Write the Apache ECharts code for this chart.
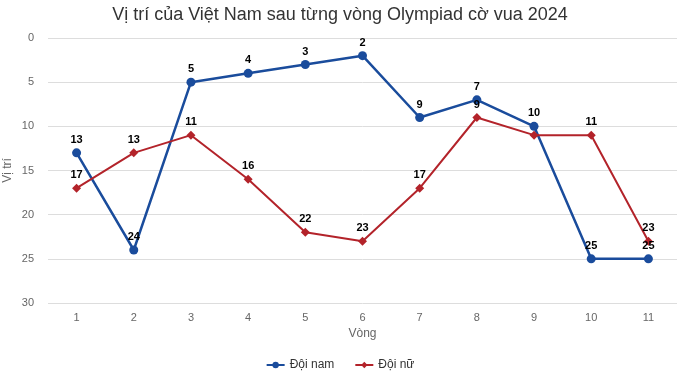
<!DOCTYPE html>
<html>
<head>
<meta charset="utf-8">
<script src="https://cdn.jsdelivr.net/npm/echarts@6/dist/echarts.min.js"></script>
<style>
html,body{margin:0;padding:0;background:#fff;}
#chart{width:680px;height:377px;}
</style>
</head>
<body>
<div id="chart"></div>
<script>
// vòng đấu
var rounds = ['1', '2', '3', '4', '5', '6', '7', '8', '9', '10', '11'];
// vị trí sau mỗi vòng
var doiNam = [13, 24, 5, 4, 3, 2, 9, 7, 10, 25, 25];
var doiNu = [17, 13, 11, 16, 22, 23, 17, 9, 11, 11, 23];

var chart = echarts.init(document.getElementById('chart'));
var option = {
    textStyle: { fontFamily: 'Liberation Sans, Arial, sans-serif' },
    title: {
        text: 'Vị trí của Việt Nam sau từng vòng Olympiad cờ vua 2024',
        left: 'center',
        top: 1,
        textStyle: { fontSize: 18, fontWeight: 'normal', color: '#333' }
    },
    legend: {
        bottom: 1,
        left: 'center',
        itemWidth: 18,
        itemHeight: 8,
        itemGap: 20,
        textStyle: { color: '#333', fontSize: 12 },
        data: ['Đội nam', 'Đội nữ']
    },
    grid: { left: 48, right: 3, top: 38, bottom: 74, outerBoundsMode: 'none', containLabel: false },
    xAxis: {
        type: 'category',
        data: rounds,
        name: 'Vòng',
        nameLocation: 'middle',
        nameGap: 25,
        nameMoveOverlap: false,
        nameTextStyle: { color: '#666', fontSize: 12 },
        axisLine: { show: false },
        axisTick: { show: false },
        axisLabel: { color: '#666', fontSize: 11, margin: 9 }
    },
    yAxis: {
        type: 'value',
        inverse: true,
        min: 0,
        max: 30,
        interval: 5,
        name: 'Vị trí',
        nameLocation: 'middle',
        nameGap: 34,
        nameMoveOverlap: false,
        nameTextStyle: { color: '#666', fontSize: 12 },
        axisLine: { show: false },
        axisTick: { show: false },
        axisLabel: { color: '#666', fontSize: 11, margin: 14 },
        splitLine: { lineStyle: { color: '#ddd' } }
    },
    series: [
        {
            name: 'Đội nam',
            type: 'line',
            data: doiNam,
            symbol: 'circle',
            symbolSize: 9,
            color: '#1a4c9c',
            lineStyle: { width: 2.5 },
            label: { show: true, position: 'top', color: '#000', fontWeight: 'bold', fontSize: 11, distance: 3 }
        },
        {
            name: 'Đội nữ',
            type: 'line',
            // nhãn ở vòng 9 bị nhãn đội nam che, nên ẩn
            data: doiNu.map(function (v, i) {
                return i === 8 ? { value: v, label: { show: false } } : v;
            }),
            symbol: 'diamond',
            symbolSize: 9,
            color: '#b3232a',
            lineStyle: { width: 2 },
            label: { show: true, position: 'top', color: '#000', fontWeight: 'bold', fontSize: 11, distance: 3 }
        }
    ]
};
chart.setOption(option);
window.addEventListener('resize', function () {
    chart.resize();
});
</script>
</body>
</html>
